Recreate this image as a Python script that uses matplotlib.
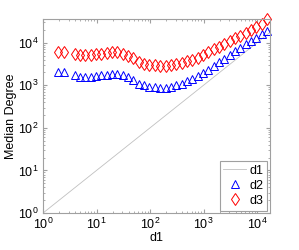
import numpy as np
import matplotlib
matplotlib.use('Agg')
import matplotlib.pyplot as plt

plt.rcParams['font.family'] = ['Liberation Sans', 'DejaVu Sans']

# valores
d1 = [1, 17500]
x = [1.9, 2.5, 3.9, 4.9, 6.2, 7.8, 9.8, 12.3, 15.5, 19.5, 24.5, 30.9, 38.9,
     49, 61.7, 77.6, 97.7, 123, 155, 195, 245, 309, 389, 490, 617, 776, 977,
     1230, 1550, 1950, 2450, 3090, 3890, 4900, 6170, 7760, 9770, 12300, 15500]
d2 = [2000, 2000, 1740, 1580, 1580, 1580, 1620, 1700, 1780, 1860, 1860, 1780,
      1580, 1350, 1100, 1000, 930, 890, 870, 870, 930, 1000, 1100, 1230, 1410,
      1660, 1950, 2340, 2820, 3470, 4170, 5130, 6310, 7590, 9120, 11000, 13200,
      15800, 19100]
d3 = [6200, 6200, 5500, 5250, 5250, 5250, 5370, 5500, 5750, 5900, 5900, 5500,
      4900, 4270, 3550, 3240, 3020, 2950, 2880, 2880, 2950, 3090, 3310, 3630,
      3980, 4470, 5130, 5890, 6920, 7940, 9330, 10700, 12600, 14500, 17000,
      19500, 22900, 27500, 35500]

fig = plt.figure(figsize=(2.99, 2.5), dpi=100)
ax = fig.add_axes([0.144, 0.148, 0.759, 0.776])

ax.plot(d1, d1, color='#c0c0c0', lw=0.6, label='d1')
ax.plot(x, d2, ls='none', marker='^', ms=5.5, mfc='none', mec='blue', mew=0.7,
        label='d2', clip_on=False)
ax.plot(x, d3, ls='none', marker='d', ms=6.5, mfc='none', mec='red', mew=0.7,
        label='d3', clip_on=False)

ax.set_xscale('log')
ax.set_yscale('log')
ax.set_xlim(1, 17500)
ax.set_ylim(1, 36000)
ax.set_xticks([1, 10, 100, 1000, 10000])
ax.set_yticks([1, 10, 100, 1000, 10000])

for s in ax.spines.values():
    s.set_color('#a0a0a0')
    s.set_linewidth(0.8)
ax.tick_params(which='both', direction='in', top=True, right=True,
               color='#a0a0a0', labelsize=9, pad=3)
ax.tick_params(which='major', length=3)
ax.tick_params(which='minor', length=1.5)

ax.set_xlabel('d1', fontsize=9, labelpad=0)
ax.set_ylabel('Median Degree', fontsize=9, labelpad=1)

leg = ax.legend(loc='lower right', fontsize=9, handlelength=1.8,
                handletextpad=0.3, borderpad=0.3, labelspacing=0.25,
                fancybox=False, framealpha=1, borderaxespad=0.2)
leg.get_frame().set_edgecolor('#a0a0a0')
leg.get_frame().set_linewidth(0.8)

fig.savefig('out.png', dpi=100)
